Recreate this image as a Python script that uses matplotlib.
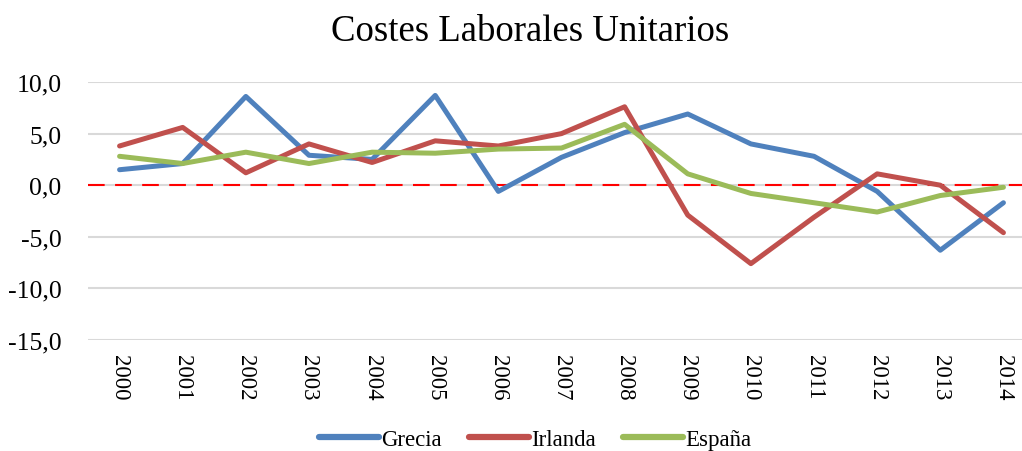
from matplotlib import pyplot as plt
import matplotlib.ticker as ticker

years = [str(y) for y in range(2000, 2015)]
grecia = [1.5, 2.1, 8.6, 2.9, 2.5, 8.7, -0.6, 2.7, 5.1, 6.9, 4.0, 2.8, -0.6, -6.3, -1.7]
irlanda = [3.8, 5.6, 1.2, 4.0, 2.2, 4.3, 3.8, 5.0, 7.6, -2.9, -7.6, -3.1, 1.1, 0.0, -4.6]
espana = [2.8, 2.1, 3.2, 2.1, 3.2, 3.1, 3.5, 3.6, 5.9, 1.1, -0.8, -1.7, -2.6, -1.0, -0.2]

plt.rcParams['font.family'] = ['Liberation Serif', 'DejaVu Serif']

W, H = 1022, 452
fig = plt.figure(figsize=(W / 100, H / 100), dpi=100)
# plot area: left edge ~88px, y=10 at 83px, y=-15 at 341px, last category cut off at right
ax = fig.add_axes([88 / W, (H - 341) / H, (1035 - 88) / W, (341 - 83) / H])

x = range(len(years))
ax.plot(x, grecia, color='#4f81bd', lw=3.6, label='Grecia', solid_capstyle='round', zorder=3)
ax.plot(x, irlanda, color='#c0504d', lw=3.6, label='Irlanda', solid_capstyle='round', zorder=3)
ax.plot(x, espana, color='#9bbb59', lw=3.6, label='España', solid_capstyle='round', zorder=3)
ax.axhline(0, color='#ff0000', lw=1.5, ls=(0, (8, 5)), zorder=2)

ax.set_xlim(-0.5, 14.5)
ax.set_ylim(-15, 10)
ax.set_yticks([10, 5, 0, -5, -10, -15])
ax.yaxis.set_major_formatter(ticker.FuncFormatter(lambda v, _: f"{v:.1f}".replace('.', ',')))
ax.set_xticks(list(x))
ax.set_xticklabels(years, rotation=-90, fontsize=16.5)
ax.tick_params(axis='y', labelsize=18.5, length=0, pad=19)
ax.tick_params(axis='x', length=0, pad=10)
ax.grid(axis='y', color='#d9d9d9', lw=1.5, zorder=0)
for s in ax.spines.values():
    s.set_visible(False)

fig.text(530 / W, 1 - 32 / H, "Costes Laborales Unitarios", ha='center', va='center', fontsize=26.5)
fig.legend(loc='center', bbox_to_anchor=(535 / W, 1 - 440 / H), ncol=3, frameon=False,
           fontsize=16.5, handlelength=2.6, columnspacing=1.2, handletextpad=0.1)
for line in fig.legends[0].get_lines():
    line.set_linewidth(4.5)

fig.savefig('out.png', dpi=100)
